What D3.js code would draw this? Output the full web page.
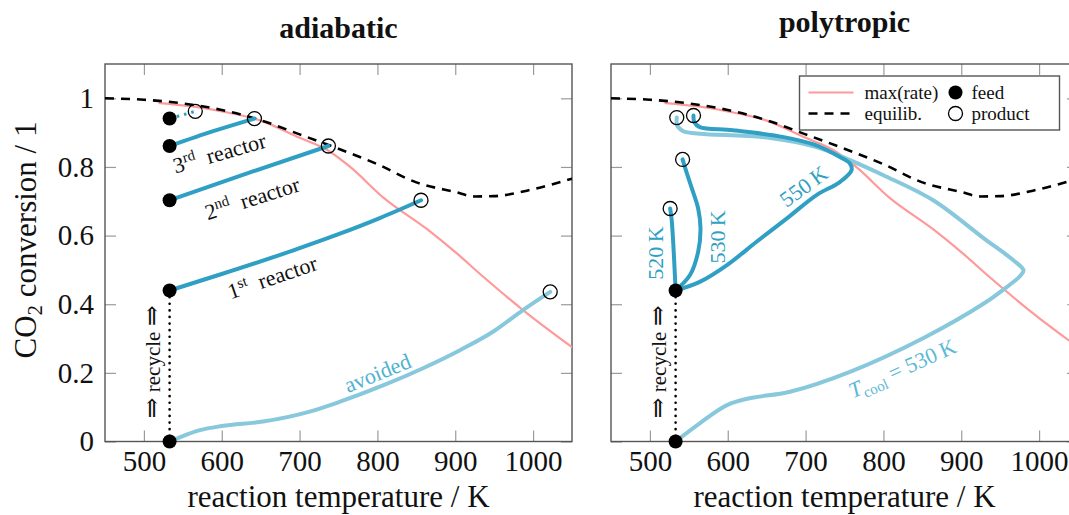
<!DOCTYPE html>
<html>
<head>
<meta charset="utf-8">
<script src="https://cdn.jsdelivr.net/npm/d3@7"></script>
<style>
body { margin: 0; background: #fff; }
svg text { font-family: "Liberation Serif", "DejaVu Serif", serif; fill: #111; }
.tick line { stroke: #9a9a9a; stroke-width: 1.2; }
.tick text { font-size: 29px; }
</style>
</head>
<body>
<svg id="chart" width="1069" height="515"></svg>
<script>
// axis ticks
var tempTicks = [500, 600, 700, 800, 900, 1000];
var convTicks = [0, 0.2, 0.4, 0.6, 0.8, 1];

// shared curves
var equilibT = [450, 500, 550, 600, 650, 700, 750, 800, 850, 900, 925, 950, 1000, 1050];
var equilibX = [1.0, 0.996, 0.985, 0.966, 0.936, 0.895, 0.853, 0.808, 0.755, 0.727, 0.714, 0.715, 0.735, 0.766];
var maxRateT = [520, 560, 600, 650, 700, 735, 765, 808, 863, 902, 936, 987, 1050];
var maxRateX = [0.986, 0.977, 0.962, 0.935, 0.885, 0.85, 0.8, 0.71, 0.62, 0.548, 0.48, 0.383, 0.275];

// adiabatic reactors
var feedT = 533;
var reactor1T = [533, 600, 692, 750, 803, 856];
var reactor1X = [0.44, 0.488, 0.557, 0.604, 0.651, 0.703];
var reactor2T = [533, 640, 737];
var reactor2X = [0.703, 0.787, 0.861];
var reactor3T = [533, 590, 642];
var reactor3X = [0.861, 0.905, 0.941];
var reactor4T = [533, 566];
var reactor4X = [0.941, 0.962];
var avoidedT = [533, 550, 572, 600, 653, 713, 752, 808, 860, 906, 950, 987, 1022];
var avoidedX = [0, 0.016, 0.033, 0.045, 0.058, 0.087, 0.116, 0.164, 0.215, 0.266, 0.322, 0.383, 0.436];
var adiaFeedX = [0.941, 0.861, 0.703, 0.44, 0];
var adiaProductT = [566, 642, 737, 856, 1022];
var adiaProductX = [0.962, 0.941, 0.861, 0.703, 0.436];

// polytropic reactors
var poly520T = [533, 528, 526];
var poly520X = [0.44, 0.645, 0.679];
var poly530T = [533, 551.5, 562, 565, 562, 554, 547, 542];
var poly530X = [0.44, 0.485, 0.553, 0.621, 0.679, 0.737, 0.785, 0.822];
var poly550T = [533, 564, 599, 637, 676, 714, 744, 759, 757, 744, 714, 672, 607, 564, 557, 556];
var poly550X = [0.44, 0.465, 0.514, 0.582, 0.65, 0.718, 0.756, 0.79, 0.81, 0.829, 0.863, 0.887, 0.907, 0.916, 0.931, 0.95];
var coolT = [533, 564, 599, 628, 680, 757, 851, 929, 959, 976, 980, 967, 929, 864, 800, 757, 714, 650, 564, 543, 535, 534.5];
var coolX = [0, 0.053, 0.106, 0.126, 0.145, 0.203, 0.301, 0.402, 0.451, 0.483, 0.499, 0.528, 0.592, 0.703, 0.776, 0.82, 0.858, 0.886, 0.897, 0.904, 0.921, 0.944];
var polyFeedX = [0.44, 0];
var polyProductT = [526, 542, 556, 534.5];
var polyProductX = [0.679, 0.822, 0.95, 0.944];

var DARK = '#2f9fc3', LIGHT = '#88c8dc', PINK = '#ff9a9a';

function pts(ts, xs){
	return ts.map(function(t, i){ return [t, xs[i]]; });
}

function PanelView(svg, left, title, titleY){
	this.svg = svg;
	this.w = 467;
	this.top = 64;
	this.bottom = 441.5;
	this.x = d3.scaleLinear().domain([450, 1050]).range([left, left + this.w]);
	this.y = d3.scaleLinear().domain([0, 1.1]).range([this.bottom, this.top]);
	this.left = left;
	this.title = title;
	this.titleY = titleY;
}

PanelView.prototype.renderFrame = function(showYLabels){
	var x = this.x, y = this.y, svg = this.svg;
	var fmt = function(d){ return d === 0 ? '0' : d === 1 ? '1' : d3.format('.1f')(d); };

	svg.append('g').attr('transform', 'translate(0,' + this.bottom + ')')
		.call(d3.axisBottom(x).tickValues(tempTicks).tickSize(-11).tickPadding(9).tickFormat(d3.format('d')))
		.call(function(g){ g.select('.domain').remove(); });
	svg.append('g').attr('transform', 'translate(0,' + this.top + ')')
		.call(d3.axisTop(x).tickValues(tempTicks).tickSize(-11).tickFormat(''))
		.call(function(g){ g.select('.domain').remove(); });
	svg.append('g').attr('transform', 'translate(' + this.left + ',0)')
		.call(d3.axisLeft(y).tickValues(convTicks).tickSize(-11).tickPadding(11)
			.tickFormat(showYLabels ? fmt : ''))
		.call(function(g){ g.select('.domain').remove(); });
	svg.append('g').attr('transform', 'translate(' + (this.left + this.w) + ',0)')
		.call(d3.axisRight(y).tickValues(convTicks).tickSize(-11).tickFormat(''))
		.call(function(g){ g.select('.domain').remove(); });

	svg.selectAll('.tick text').attr('font-family', null).attr('font-size', null);

	svg.append('rect')
		.attr('x', this.left).attr('y', this.top)
		.attr('width', this.w).attr('height', this.bottom - this.top)
		.attr('fill', 'none').attr('stroke', '#555').attr('stroke-width', 1.4);

	var cx = this.left + this.w / 2;
	svg.append('text').attr('x', cx).attr('y', this.titleY)
		.attr('text-anchor', 'middle').attr('font-weight', 'bold').attr('font-size', 30)
		.text(this.title);
	svg.append('text').attr('x', cx).attr('y', 507)
		.attr('text-anchor', 'middle').attr('font-size', 31)
		.text('reaction temperature / K');

	var id = 'clip' + this.left;
	svg.append('clipPath').attr('id', id).append('rect')
		.attr('x', this.left).attr('y', this.top)
		.attr('width', this.w).attr('height', this.bottom - this.top);
	this.plot = svg.append('g').attr('clip-path', 'url(#' + id + ')');
}

PanelView.prototype.addLine = function(data, color, width, curve, dash){
	var x = this.x, y = this.y;
	var line = d3.line().x(function(d){ return x(d[0]); }).y(function(d){ return y(d[1]); })
		.curve(curve || d3.curveMonotoneX);
	this.plot.append('path').datum(data)
		.attr('d', line)
		.attr('fill', 'none')
		.attr('stroke', color)
		.attr('stroke-width', width)
		.attr('stroke-linecap', dash ? 'butt' : 'round')
		.attr('stroke-linejoin', 'round')
		.attr('stroke-dasharray', dash || null);
}

PanelView.prototype.addCurves = function(){
	this.addLine(pts(maxRateT, maxRateX), PINK, 2.2);
	this.addLine(pts(equilibT, equilibX), '#000', 2.6, null, '9,7');
}

PanelView.prototype.addRecycle = function(){
	var x = this.x, y = this.y;
	this.plot.append('line')
		.attr('x1', x(feedT)).attr('x2', x(feedT))
		.attr('y1', y(0.44)).attr('y2', y(0))
		.attr('stroke', '#000').attr('stroke-width', 2.6)
		.attr('stroke-dasharray', '0.1,6.5').attr('stroke-linecap', 'round');
	var t = this.addLabel(511, 0.232, -90, '', '#111', 21);
	t.append('tspan').attr('font-size', 25).text('\u21d2');
	t.append('tspan').text(' recycle ');
	t.append('tspan').attr('font-size', 25).text('\u21d2');
}

PanelView.prototype.addPoints = function(feedXs, prodTs, prodXs){
	var x = this.x, y = this.y;
	this.svg.selectAll(null).data(prodTs).enter().append('circle')
		.attr('cx', function(d){ return x(d); })
		.attr('cy', function(d, i){ return y(prodXs[i]); })
		.attr('r', 7).attr('fill', 'none').attr('stroke', '#000').attr('stroke-width', 1.3);
	this.svg.selectAll(null).data(feedXs).enter().append('circle')
		.attr('cx', x(feedT))
		.attr('cy', function(d){ return y(d); })
		.attr('r', 7).attr('fill', '#000');
}

PanelView.prototype.addLabel = function(t, c, angle, text, color, size, sup){
	var px = this.x(t), py = this.y(c);
	var txt = this.svg.append('text')
		.attr('transform', 'translate(' + px + ',' + py + ') rotate(' + angle + ')')
		.attr('text-anchor', 'middle').attr('dy', '0.35em')
		.attr('font-size', size).style('fill', color);
	if(sup){
		txt.append('tspan').text(sup[0]);
		txt.append('tspan').attr('dy', -8).attr('font-size', 15).text(sup[1]);
		txt.append('tspan').attr('dy', 8).text(text);
	} else {
		txt.text(text);
	}
	return txt;
}

var svg = d3.select('#chart');

svg.append('text')
	.attr('transform', 'translate(36,240) rotate(-90)')
	.attr('text-anchor', 'middle').attr('font-size', 31)
	.call(function(t){
		t.append('tspan').text('CO');
		t.append('tspan').attr('dy', 6).attr('font-size', 21).text('2');
		t.append('tspan').attr('dy', -6).text(' conversion / 1');
	});

// adiabatic
var adia = new PanelView(svg, 105, 'adiabatic', 38);
adia.renderFrame(true);
adia.addCurves();
adia.addLine(pts(avoidedT, avoidedX), LIGHT, 4);
adia.addLine(pts(reactor1T, reactor1X), DARK, 4);
adia.addLine(pts(reactor2T, reactor2X), DARK, 4);
adia.addLine(pts(reactor3T, reactor3X), DARK, 4);
adia.addLine(pts(reactor4T, reactor4X), DARK, 3, null, '2.5,5');
adia.addRecycle();
adia.addPoints(adiaFeedX, adiaProductT, adiaProductX);
adia.addLabel(597, 0.841, -16, '\u2002reactor', '#111', 22, ['3', 'rd']);
adia.addLabel(639, 0.709, -17.5, '\u2002reactor', '#111', 22, ['2', 'nd']);
adia.addLabel(665, 0.479, -19, '\u2002reactor', '#111', 22, ['1', 'st']);
adia.addLabel(800, 0.2, -22, 'avoided', '#4db2d0', 22);

// polytropic
var poly = new PanelView(svg, 611, 'polytropic', 31.5);
poly.renderFrame(false);
poly.addCurves();
poly.addLine(pts(coolT, coolX), LIGHT, 4, d3.curveCatmullRom);
poly.addLine(pts(poly520T, poly520X), DARK, 4, d3.curveCatmullRom);
poly.addLine(pts(poly530T, poly530X), DARK, 4, d3.curveCatmullRom);
poly.addLine(pts(poly550T, poly550X), DARK, 4, d3.curveCatmullRom);
poly.addRecycle();
poly.addPoints(polyFeedX, polyProductT, polyProductX);
poly.addLabel(506.5, 0.549, -90, '520\u2009K', DARK, 22);
poly.addLabel(586, 0.596, -90, '530\u2009K', DARK, 22);
poly.addLabel(697.5, 0.744, -36, '550\u2009K', DARK, 22);
var tc = poly.addLabel(824, 0.214, -24, '', '#5bb9d6', 22);
tc.append('tspan').attr('font-style', 'italic').text('T');
tc.append('tspan').attr('dy', 5).attr('font-size', 15).text('cool');
tc.append('tspan').attr('dy', -5).text(' = 530\u2009K');

// legend
var lg = svg.append('g').attr('transform', 'translate(799.5,76)');
lg.append('rect').attr('width', 260).attr('height', 54)
	.attr('fill', '#fff').attr('stroke', '#555').attr('stroke-width', 1.4);
lg.append('line').attr('x1', 9).attr('x2', 54).attr('y1', 16.5).attr('y2', 16.5)
	.attr('stroke', PINK).attr('stroke-width', 2.2);
lg.append('line').attr('x1', 9).attr('x2', 54).attr('y1', 37.5).attr('y2', 37.5)
	.attr('stroke', '#000').attr('stroke-width', 2.6).attr('stroke-dasharray', '9,7');
lg.append('circle').attr('cx', 156).attr('cy', 16.5).attr('r', 7).attr('fill', '#000');
lg.append('circle').attr('cx', 156).attr('cy', 37.5).attr('r', 7)
	.attr('fill', 'none').attr('stroke', '#000').attr('stroke-width', 1.3);
[['max(rate)', 65, 16.5], ['equilib.', 65, 37.5], ['feed', 172, 16.5], ['product', 172, 37.5]].forEach(function(e){
	lg.append('text').attr('x', e[1]).attr('y', e[2]).attr('dy', '0.35em')
		.attr('font-size', 19).text(e[0]);
});
</script>
</body>
</html>
